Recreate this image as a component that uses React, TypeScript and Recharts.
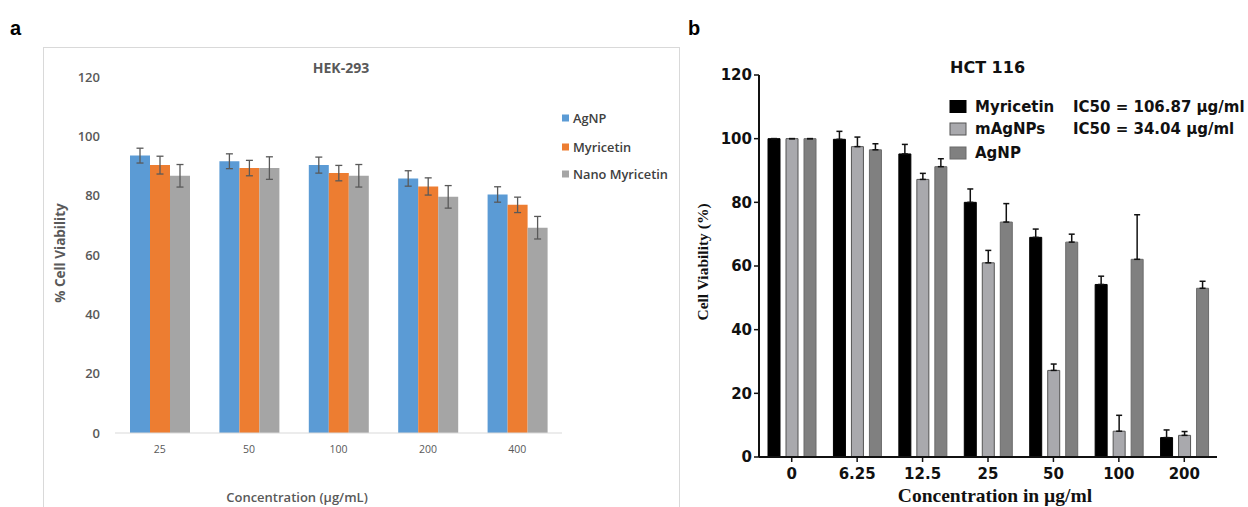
import React from 'react';
import { BarChart, Bar, XAxis, YAxis, ErrorBar } from 'recharts';

// ---------- Panel a : HEK-293 ----------
const hekCategories = ['25', '50', '100', '200', '400'];
const hekAgNP = [93.5, 91.6, 90.3, 85.8, 80.4];
const hekAgNPErr = [2.5, 2.5, 2.7, 2.6, 2.6];
const hekMyricetin = [90.3, 89.3, 87.6, 83.1, 76.9];
const hekMyricetinErr = [3.0, 2.6, 2.6, 2.9, 2.6];
const hekNano = [86.7, 89.3, 86.7, 79.6, 69.2];
const hekNanoErr = [3.8, 3.8, 3.8, 3.8, 3.8];
const hekTicks = [0, 20, 40, 60, 80, 100, 120];
const hekSeries = [
  { key: 'agnp', name: 'AgNP', color: '#5B9BD5' },
  { key: 'myr', name: 'Myricetin', color: '#ED7D31' },
  { key: 'nano', name: 'Nano Myricetin', color: '#A5A5A5' },
];

// ---------- Panel b : HCT 116 ----------
const hctCategories = ['0', '6.25', '12.5', '25', '50', '100', '200'];
const hctMyricetin = [100, 99.8, 95.2, 80, 69, 54.2, 6.1];
const hctMyricetinErr = [0, 2.5, 3, 4.2, 2.6, 2.6, 2.4];
const hctMAgNPs = [100, 97.5, 87.2, 61, 27.2, 8.1, 6.8];
const hctMAgNPsErr = [0, 3, 1.9, 3.9, 2, 5, 1.2];
const hctAgNP = [100, 96.5, 91.2, 73.8, 67.5, 62.1, 53];
const hctAgNPErr = [0, 1.9, 2.5, 5.8, 2.5, 14, 2.2];
const hctTicks = [0, 20, 40, 60, 80, 100, 120];
const hctSeries = [
  { key: 'myr', name: 'Myricetin', color: '#000000', stroke: '#000000' },
  { key: 'magnp', name: 'mAgNPs', color: '#A9A9AD', stroke: '#555555' },
  { key: 'agnp', name: 'AgNP', color: '#808080', stroke: '#6a6a6a' },
];
const ic50Labels = ['IC50 = 106.87 µg/ml', 'IC50 = 34.04 µg/ml'];

const hekData = hekCategories.map((c, i) => ({
  c,
  agnp: hekAgNP[i],
  agnpErr: hekAgNPErr[i],
  myr: hekMyricetin[i],
  myrErr: hekMyricetinErr[i],
  nano: hekNano[i],
  nanoErr: hekNanoErr[i],
}));

const hctData = hctCategories.map((c, i) => ({
  c,
  myr: hctMyricetin[i],
  myrErr: [0, hctMyricetinErr[i]],
  magnp: hctMAgNPs[i],
  magnpErr: [0, hctMAgNPsErr[i]],
  agnp: hctAgNP[i],
  agnpErr: [0, hctAgNPErr[i]],
}));

const fontA = 'Open Sans, sans-serif';
const fontB = 'DejaVu Sans, sans-serif';
const serif = 'Liberation Serif, serif';

export default function App() {
  return (
    <div
      style={{
        position: 'absolute',
        left: 0,
        top: 0,
        width: 1248,
        height: 507,
        background: '#fff',
        overflow: 'hidden',
      }}
    >
      <div
        style={{
          position: 'absolute',
          left: 43,
          top: 47,
          width: 635,
          height: 480,
          border: '1px solid #D9D9D9',
        }}
      />
      <div style={{ position: 'absolute', left: 0, top: 0, fontFamily: fontA }}>
        <BarChart
          width={690}
          height={507}
          data={hekData}
          margin={{ top: 77, right: 128, bottom: 44, left: 0 }}
          barGap={0}
          barSize={20}
        >
          <XAxis
            dataKey="c"
            interval={0}
            height={30}
            axisLine={{ stroke: '#D9D9D9', strokeWidth: 1.2 }}
            tickLine={false}
            tickSize={6}
            tickMargin={7}
            tick={{ fontSize: 10.5, fill: '#595959', fontFamily: fontA }}
          />
          <YAxis
            domain={[0, 120]}
            ticks={hekTicks}
            width={115}
            axisLine={false}
            tickLine={false}
            tickSize={6}
            tickMargin={9}
            tick={{ fontSize: 13, fill: '#595959', fontFamily: fontA, fontWeight: 600 }}
          />
          {hekSeries.map((s) => (
            <Bar key={s.key} dataKey={s.key} name={s.name} fill={s.color} isAnimationActive={false}>
              <ErrorBar dataKey={s.key + 'Err'} width={3.5} stroke="#595959" strokeWidth={1.3} />
            </Bar>
          ))}
        </BarChart>
      </div>
      <div style={{ position: 'absolute', left: 690, top: 0, fontFamily: fontB }}>
        <BarChart
          width={558}
          height={507}
          data={hctData}
          margin={{ top: 75, right: 31, bottom: 20, left: 0 }}
          barGap={6}
          barSize={12}
        >
          <XAxis
            dataKey="c"
            interval={0}
            height={30}
            axisLine={{ stroke: '#111', strokeWidth: 2 }}
            tickLine={{ stroke: '#111', strokeWidth: 1.5 }}
            tickSize={5}
            tickMargin={6}
            tick={{ fontSize: 15, fill: '#111', fontFamily: fontB, fontWeight: 700 }}
          />
          <YAxis
            domain={[0, 120]}
            ticks={hctTicks}
            width={69}
            axisLine={{ stroke: '#111', strokeWidth: 2 }}
            tickLine={{ stroke: '#111', strokeWidth: 1.5 }}
            tickSize={5}
            tickMargin={2}
            tick={{ fontSize: 15, fill: '#111', fontFamily: fontB, fontWeight: 700 }}
          />
          {hctSeries.map((s) => (
            <Bar
              key={s.key}
              dataKey={s.key}
              name={s.name}
              fill={s.color}
              stroke={s.stroke}
              strokeWidth={1}
              isAnimationActive={false}
            >
              <ErrorBar dataKey={s.key + 'Err'} width={3} stroke="#111" strokeWidth={1.5} />
            </Bar>
          ))}
        </BarChart>
      </div>
      <svg
        width={1248}
        height={507}
        style={{ position: 'absolute', left: 0, top: 0, pointerEvents: 'none' }}
      >
        {/* panel letters */}
        <text x={10} y={35} fontSize={20} fontWeight={700} fontFamily="Liberation Sans, Arial, sans-serif" fill="#000">
          a
        </text>
        <text x={688} y={35} fontSize={20} fontWeight={700} fontFamily="Liberation Sans, Arial, sans-serif" fill="#000">
          b
        </text>

        {/* panel a texts */}
        <text x={341} y={67} textAnchor="middle" dominantBaseline="central" fontSize={14} fontWeight={700} fontFamily={fontA} fill="#595959">
          HEK-293
        </text>
        <text
          x={60}
          y={253}
          textAnchor="middle"
          dominantBaseline="central"
          fontSize={13.5}
          fontWeight={700}
          fontFamily={fontA}
          fill="#595959"
          transform="rotate(-90 60 253)"
        >
          % Cell Viability
        </text>
        <text x={297} y={497} textAnchor="middle" dominantBaseline="central" fontSize={13} fontWeight={600} fontFamily={fontA} fill="#595959">
          Concentration (µg/mL)
        </text>
        {hekSeries.map((s, i) => {
          const cy = [118, 147, 174][i];
          return (
            <g key={s.key}>
              <rect x={562} y={cy - 3.5} width={7} height={7} fill={s.color} />
              <text x={573} y={cy} dominantBaseline="central" fontSize={12.8} fontWeight={600} fontFamily={fontA} fill="#404040">
                {s.name}
              </text>
            </g>
          );
        })}

        {/* panel b texts */}
        <text x={950} y={67} dominantBaseline="central" fontSize={16} fontWeight={700} fontFamily={fontB} fill="#111">
          HCT 116
        </text>
        {hctSeries.map((s, i) => {
          const cy = [106.5, 129, 153][i];
          return (
            <g key={s.key}>
              <rect x={950} y={cy - 6} width={16} height={12} fill={s.color} stroke={s.stroke} strokeWidth={1} />
              <text x={975} y={cy} dominantBaseline="central" fontSize={15} fontWeight={700} fontFamily={fontB} fill="#111">
                {s.name}
              </text>
            </g>
          );
        })}
        {ic50Labels.map((t, i) => (
          <text key={t} x={1073} y={[106.5, 129][i]} dominantBaseline="central" fontSize={15} fontWeight={700} fontFamily={fontB} fill="#111">
            {t}
          </text>
        ))}
        <text
          x={702}
          y={262}
          textAnchor="middle"
          dominantBaseline="central"
          fontSize={15.5}
          fontWeight={700}
          fontFamily={serif}
          fill="#111"
          transform="rotate(-90 702 262)"
        >
          Cell Viability (%)
        </text>
        <text x={995} y={495} textAnchor="middle" dominantBaseline="central" fontSize={19.5} fontWeight={700} fontFamily={serif} fill="#111">
          Concentration in µg/ml
        </text>
      </svg>
    </div>
  );
}
